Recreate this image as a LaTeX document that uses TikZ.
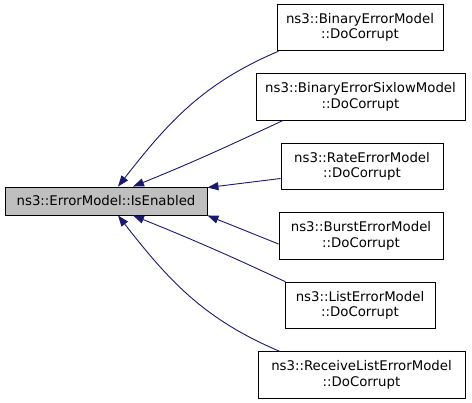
\documentclass[tikz,border=0pt]{standalone}
\usepackage{fontspec}
\setmainfont{DejaVu Sans}
\usetikzlibrary{arrows.meta}
\definecolor{edgeblue}{HTML}{191970}
\definecolor{callgray}{HTML}{BFBFBF}

\begin{document}
\begin{tikzpicture}[x=1pt,y=-1pt,
    fn/.style={draw=black,line width=0.9pt,fill=white,align=center,inner sep=0pt,
      minimum height=46.5pt,font=\fontsize{13.3}{15.5}\selectfont},
    root/.style={fn,fill=callgray,minimum height=28pt},
    edge/.style={edgeblue,line width=0.9pt,-{Triangle[length=11pt,width=8pt]}}]
  \useasboundingbox (0,0) rectangle (472,403);

  % Function that is called
  \node[root,minimum width=202pt] (isenabled) at (106,201) {ns3::ErrorModel::IsEnabled};

  % Callers
  \node[fn,minimum width=166pt] (binary) at (360,27.5) {ns3::BinaryErrorModel\\::DoCorrupt};
  \node[fn,minimum width=209pt] (sixlow) at (360.5,97) {ns3::BinaryErrorSixlowModel\\::DoCorrupt};
  \node[fn,minimum width=162pt] (rate) at (362,166.5) {ns3::RateErrorModel\\::DoCorrupt};
  \node[fn,minimum width=164pt] (burst) at (361,236) {ns3::BurstErrorModel\\::DoCorrupt};
  \node[fn,minimum width=150pt] (list) at (360,305.5) {ns3::ListErrorModel\\::DoCorrupt};
  \node[fn,minimum width=207pt] (rxlist) at (361.5,375) {ns3::ReceiveListErrorModel\\::DoCorrupt};

  % Call edges
  \draw[edge] ([xshift=2pt]binary.south west) to[out=203,in=52] ([xshift=12pt]isenabled.north);
  \draw[edge] ([xshift=27pt]sixlow.south west) to[out=205,in=22] ([xshift=27pt]isenabled.north);
  \draw[edge] ([yshift=-12pt]rate.west) -- ([yshift=-1pt]isenabled.north east);
  \draw[edge] ([yshift=-8pt]burst.west) -- (isenabled.south east);
  \draw[edge] ([xshift=1pt]list.north west) to[out=155,in=-22] ([xshift=27pt]isenabled.south);
  \draw[edge] ([xshift=22pt]rxlist.north west) to[out=157,in=-52] ([xshift=12pt]isenabled.south);
\end{tikzpicture}
\end{document}
